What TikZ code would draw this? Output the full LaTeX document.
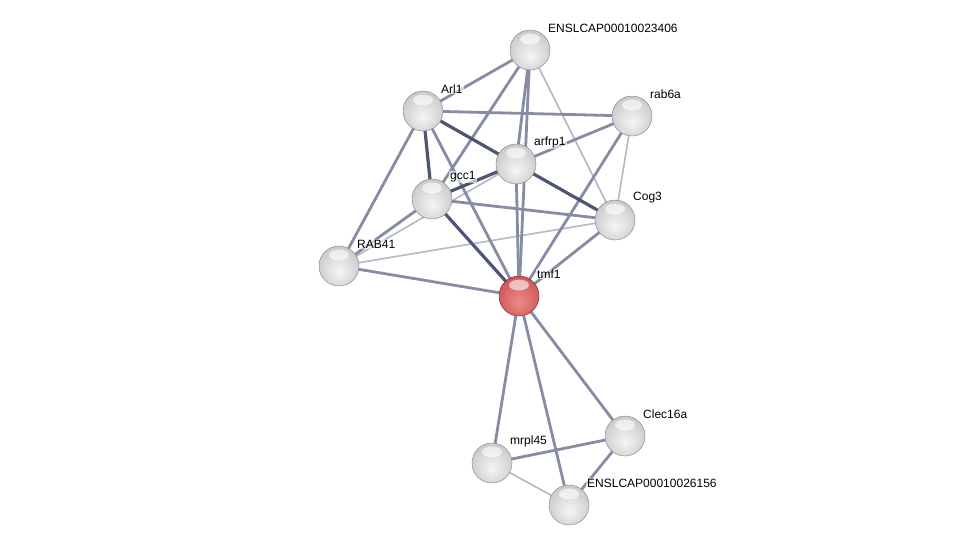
\documentclass[tikz,border=0pt]{standalone}
\usepackage{fontspec}
\setmainfont{Liberation Sans}
\usetikzlibrary{positioning,backgrounds}

\definecolor{edgedark}{HTML}{4E5674}
\definecolor{edgemid}{HTML}{858CA4}
\definecolor{edgelight}{HTML}{B3B7C8}

\pgfdeclareradialshading{grayball}{\pgfpoint{0bp}{-8bp}}{color(0bp)=(black!4); color(14bp)=(black!12);
    color(30bp)=(black!22); color(42bp)=(black!30); color(50bp)=(black!55)}
\pgfdeclareradialshading{redball}{\pgfpoint{0bp}{-8bp}}{color(0bp)=(red!40!white!92!black); color(14bp)=(red!50!white!88!black);
    color(30bp)=(red!58!white!78!black); color(42bp)=(red!60!white!66!black); color(50bp)=(red!45!black)}

\begin{document}
\begin{tikzpicture}[x=1pt,y=-1pt,
    prot/.style={circle, minimum size=40pt, inner sep=0pt, shading=grayball, draw=black!45, line width=0.5pt,
        path picture={\fill[white, opacity=0.6] (path picture bounding box.center) ++(0,-11) ellipse (10pt and 5.5pt);}},
    query/.style={prot, shading=redball, draw=red!35!black!80},
    lbl/.style={anchor=west, inner sep=1pt, fill=white, fill opacity=0.6, text opacity=1,
        font=\fontsize{12}{14}\selectfont},
    weak/.style={edgelight, line width=1.6pt},
    mid/.style={edgemid, line width=2.8pt},
    strong/.style={edgedark, line width=3.2pt}]
    \useasboundingbox (0,0) rectangle (976,550);

    % Proteins
    \foreach \n/\x/\y/\t in {ens1/530/50/ENSLCAP00010023406, arl1/423/111/Arl1, rab6a/632/116/rab6a,
        arfrp1/516/164/arfrp1, gcc1/432/199/gcc1, cog3/615/220/Cog3, rab41/339/266/RAB41,
        clec/625/436/Clec16a, mrpl/492/463/mrpl45, ens2/569/505/ENSLCAP00010026156} {
        \node[prot] (\n) at (\x,\y) {};
        \node[lbl] (\n-l) at (\x+17,\y-22) {\t};
    }
    \node[query] (tmf1) at (519,296) {};
    \node[lbl] (tmf1-l) at (536,274) {tmf1};

    % Interactions
    \begin{scope}[on background layer]
        \foreach \a/\b in {ens1/cog3, rab6a/cog3, rab41/cog3, rab41/arfrp1, mrpl/ens2}
            \draw[weak] (\a.center) -- (\b.center);
        \foreach \a/\b in {ens1/arl1, ens1/gcc1, ens1/arfrp1, ens1/tmf1, arl1/rab6a, arl1/rab41, arl1/tmf1,
            rab6a/arfrp1, rab6a/tmf1, gcc1/cog3, gcc1/rab41, rab41/tmf1, cog3/tmf1,
            tmf1/mrpl, tmf1/ens2, tmf1/clec, mrpl/clec, clec/ens2, arfrp1/tmf1}
            \draw[mid] (\a.center) -- (\b.center);
        \foreach \a/\b in {arl1/arfrp1, arl1/gcc1, arfrp1/gcc1, arfrp1/cog3, gcc1/tmf1}
            \draw[strong] (\a.center) -- (\b.center);
    \end{scope}
\end{tikzpicture}
\end{document}
